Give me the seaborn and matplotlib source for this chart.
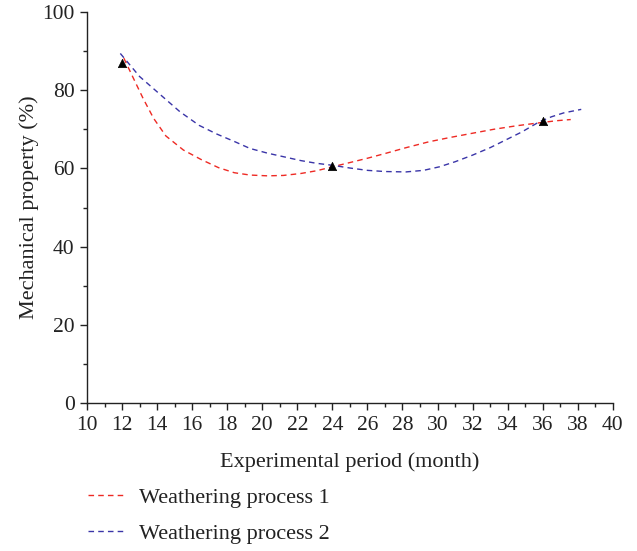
import matplotlib
matplotlib.use('Agg')
import matplotlib.pyplot as plt
import seaborn as sns
import pandas as pd
from matplotlib.ticker import MultipleLocator

# curves
months_1 = [12.1, 12.6, 13.2, 13.8, 14.5, 15.5, 16.5, 17.5, 18.4, 19.3, 20.3, 21.2, 22.2, 23.1,
            24.0, 25.0, 26.0, 27.0, 28.2, 29.5, 30.7, 32.0, 33.2, 34.5, 35.7, 36.8, 37.6]
process_1 = [88.2, 83.5, 77.9, 72.8, 68.3, 64.7, 62.3, 60.2, 58.9, 58.3, 58.1, 58.2, 58.7, 59.4,
             60.4, 61.5, 62.6, 63.8, 65.3, 66.8, 67.9, 69.0, 70.0, 70.9, 71.6, 72.2, 72.5]

months_2 = [11.9, 13.0, 14.2, 15.3, 16.4, 17.4, 18.4, 19.3, 20.3, 21.2, 22.2, 23.1, 24.0, 25.0,
            26.0, 27.0, 28.2, 29.2, 30.1, 31.0, 32.0, 33.0, 33.9, 34.8, 35.8, 36.5, 37.2, 38.2]
process_2 = [89.4, 83.5, 78.8, 74.5, 71.0, 68.8, 66.9, 65.1, 63.9, 63.0, 62.0, 61.3, 60.8, 60.1,
             59.5, 59.2, 59.1, 59.5, 60.4, 61.7, 63.4, 65.3, 67.3, 69.3, 71.9, 73.2, 74.2, 75.1]

# measured points (triangles)
measured_months = [12, 24, 36]
measured_values = [87.0, 60.5, 72.0]

labels = ['Weathering process 1', 'Weathering process 2']
colors = ['#ee2a24', '#3a35a8']

df = pd.concat([
    pd.DataFrame({'month': months_1, 'value': process_1, 'series': labels[0]}),
    pd.DataFrame({'month': months_2, 'value': process_2, 'series': labels[1]}),
])
pts = pd.DataFrame({'month': measured_months, 'value': measured_values})

sns.set_style('ticks')
plt.rcParams['font.family'] = ['Liberation Serif', 'DejaVu Serif']

fig = plt.figure(figsize=(6.37, 5.51), dpi=100)
ax = fig.add_axes([0.1366, 0.2686, 0.8254, 0.7096])

sns.lineplot(data=df, x='month', y='value', hue='series', palette=colors,
             sort=False, estimator=None, linewidth=1.0, ax=ax, legend=False)
for line in ax.lines:
    line.set_dashes((4, 3))
sns.scatterplot(data=pts, x='month', y='value', marker='^', color='black',
                s=36, edgecolor='black', linewidth=0.5, zorder=5, ax=ax)

ax.set_xlim(10, 40)
ax.set_ylim(0, 100)
ax.xaxis.set_major_locator(MultipleLocator(2))
ax.xaxis.set_minor_locator(MultipleLocator(1))
ax.yaxis.set_major_locator(MultipleLocator(20))
ax.yaxis.set_minor_locator(MultipleLocator(10))
ax.tick_params(which='major', direction='out', length=5, width=1, labelsize=15.5,
               colors='#222222', labelcolor='#222222', pad=4)
ax.tick_params(which='minor', direction='out', length=3, width=1, colors='#222222')
sns.despine(ax=ax)
for s in ['left', 'bottom']:
    ax.spines[s].set_linewidth(1)
    ax.spines[s].set_color('#222222')
ax.set_xlabel('Experimental period (month)', fontsize=16, color='#222222', labelpad=13)
ax.set_ylabel('Mechanical property (%)', fontsize=16, color='#222222', labelpad=2)

handles = [plt.Line2D([], [], color=c, lw=1.0, dashes=(4, 3)) for c in colors]
fig.legend(handles, labels, loc='upper left', bbox_to_anchor=(0.124, 0.132),
           borderaxespad=0, frameon=False, fontsize=16, handlelength=1.7,
           handletextpad=0.6, labelspacing=0.7, labelcolor='#222222')

fig.savefig('out.png', dpi=100)
